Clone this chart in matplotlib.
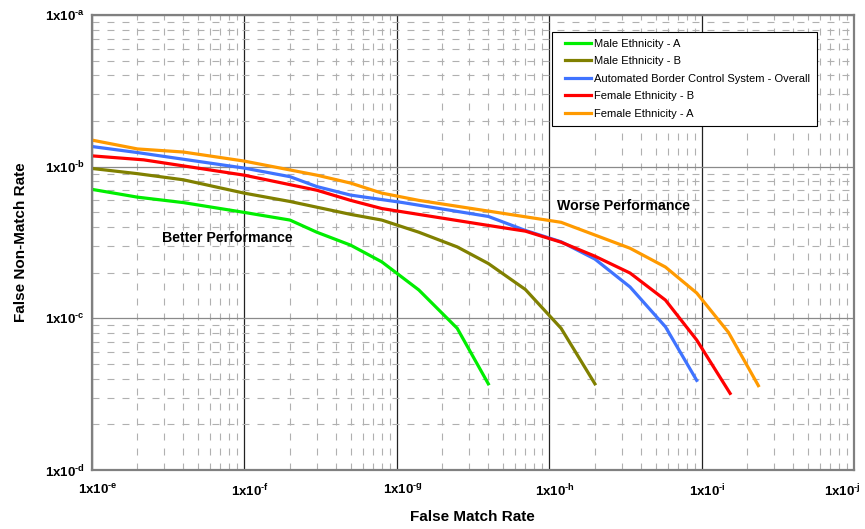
import numpy as np
import matplotlib.pyplot as plt
from matplotlib.ticker import FixedLocator, LogLocator, NullFormatter
from matplotlib.transforms import ScaledTranslation
from matplotlib.legend_handler import HandlerLine2D

# DET curves, FMR on x (decades e..j), FNMR on y (decades d..a)
# axis spans 1..1e5 (x) and 1..1e3 (y)
male_a_fmr = [1, 2, 4, 10, 20, 30, 50, 80, 140, 250, 400]
male_a_fnmr = [71, 63, 58, 50, 44.5, 37, 30.4, 23.6, 15.4, 8.6, 3.7]

male_b_fmr = [1, 2, 4, 10, 20, 50, 80, 140, 250, 400, 700, 1200, 2000]
male_b_fnmr = [97.5, 90, 82, 67, 59, 48.5, 44.5, 37, 29.6, 23, 15.5, 8.6, 3.7]

overall_fmr = [1, 2, 10, 20, 30, 50, 110, 400, 700, 1200, 2000, 3400, 5800, 9300]
overall_fnmr = [136, 124, 98, 86, 74, 65, 58, 47, 38, 32, 24.6, 16.1, 8.8, 3.9]

female_b_fmr = [1, 2.2, 10, 30, 50, 80, 400, 700, 1200, 2000, 3400, 5800, 9300, 15400]
female_b_fnmr = [118, 111, 88, 70, 60, 53, 41, 37.6, 31.8, 25.7, 19.9, 13.2, 7.2, 3.2]

female_a_fmr = [1, 2, 4, 10, 30, 50, 80, 140, 1200, 3400, 5800, 9300, 15000, 23600]
female_a_fnmr = [150, 131, 125, 109, 88, 78, 67, 60, 43, 29, 21.8, 14.7, 8.1, 3.6]

x_letters = ['e', 'f', 'g', 'h', 'i', 'j']
y_letters = ['d', 'c', 'b', 'a']

plt.rcParams['font.family'] = 'Liberation Sans'
plt.rcParams['mathtext.fontset'] = 'custom'
plt.rcParams['mathtext.rm'] = 'Liberation Sans:bold'
plt.rcParams['mathtext.bf'] = 'Liberation Sans:bold'
plt.rcParams['lines.scale_dashes'] = False

fig = plt.figure(figsize=(8.65, 5.29), dpi=100)
ax = fig.add_axes([0.1058, 0.1115, 0.8815, 0.86])
ax.set_xscale('log')
ax.set_yscale('log')
ax.set_xlim(1, 1e5)
ax.set_ylim(1, 1e3)

# grid: dashed minor, solid major
ax.xaxis.set_minor_locator(LogLocator(base=10, subs=np.arange(2, 10)))
ax.yaxis.set_minor_locator(LogLocator(base=10, subs=np.arange(2, 10)))
ax.xaxis.set_minor_formatter(NullFormatter())
ax.yaxis.set_minor_formatter(NullFormatter())
ax.grid(which='minor', color='#b0b0b0', lw=0.8, linestyle=(0, (5, 5.8)))
ax.grid(which='major', axis='x', color='#222222', lw=0.9)
ax.grid(which='major', axis='y', color='#8a8a8a', lw=0.9)
ax.set_axisbelow(True)

xt = [10.0 ** i for i in range(len(x_letters))]
yt = [10.0 ** i for i in range(len(y_letters))]
ax.xaxis.set_major_locator(FixedLocator(xt))
ax.yaxis.set_major_locator(FixedLocator(yt))
ax.set_xticklabels([r'1x10$^{\text{-%s}}$' % c for c in x_letters],
                   fontsize=9.5, fontweight='bold')
ax.set_yticklabels([r'1x10$^{\text{-%s}}$' % c for c in y_letters],
                   fontsize=9.5, fontweight='bold')
ax.tick_params(which='both', length=0)
ax.tick_params(axis='x', pad=9)
ax.tick_params(axis='y', pad=5)

# x labels sit a little right of their ticks, the last one is pulled in
xlabels = ax.get_xticklabels()
for i, lab in enumerate(xlabels):
    dx = 6 if i < len(xlabels) - 1 else -12
    lab.set_transform(lab.get_transform() + ScaledTranslation(dx / 100, 0, fig.dpi_scale_trans))

for s in ax.spines.values():
    s.set_color('#808080')
    s.set_linewidth(1.6)

lw = 2.3
ax.plot(male_a_fmr, male_a_fnmr, color='#00ee00', lw=lw, label='Male Ethnicity - A')
ax.plot(male_b_fmr, male_b_fnmr, color='#808000', lw=lw, label='Male Ethnicity - B')
ax.plot(overall_fmr, overall_fnmr, color='#3f73ff', lw=lw,
        label='Automated Border Control System - Overall')
ax.plot(female_b_fmr, female_b_fnmr, color='#ff0000', lw=lw, label='Female Ethnicity - B')
ax.plot(female_a_fmr, female_a_fnmr, color='#ff9a00', lw=lw, label='Female Ethnicity - A')

ax.text(0.178, 0.51, 'Better Performance', transform=ax.transAxes,
        fontsize=10.2, fontweight='bold', ha='center', va='center')
ax.text(0.698, 0.58, 'Worse Performance', transform=ax.transAxes,
        fontsize=10.2, fontweight='bold', ha='center', va='center')

leg = ax.legend(loc='upper left', bbox_to_anchor=(0.638, 0.9395),
                bbox_transform=fig.transFigure, fontsize=8, frameon=True,
                fancybox=False, edgecolor='black', framealpha=1,
                handlelength=2.9, handletextpad=0.3, labelspacing=0.68,
                borderpad=0.6, borderaxespad=0,
                handler_map={plt.Line2D: HandlerLine2D(xpad=0.57)})
leg.get_frame().set_linewidth(0.8)

ax.set_xlabel('False Match Rate', fontsize=11, fontweight='bold', labelpad=8)
ax.set_ylabel('False Non-Match Rate', fontsize=11, fontweight='bold', labelpad=12)

fig.savefig('out.png', dpi=100)
